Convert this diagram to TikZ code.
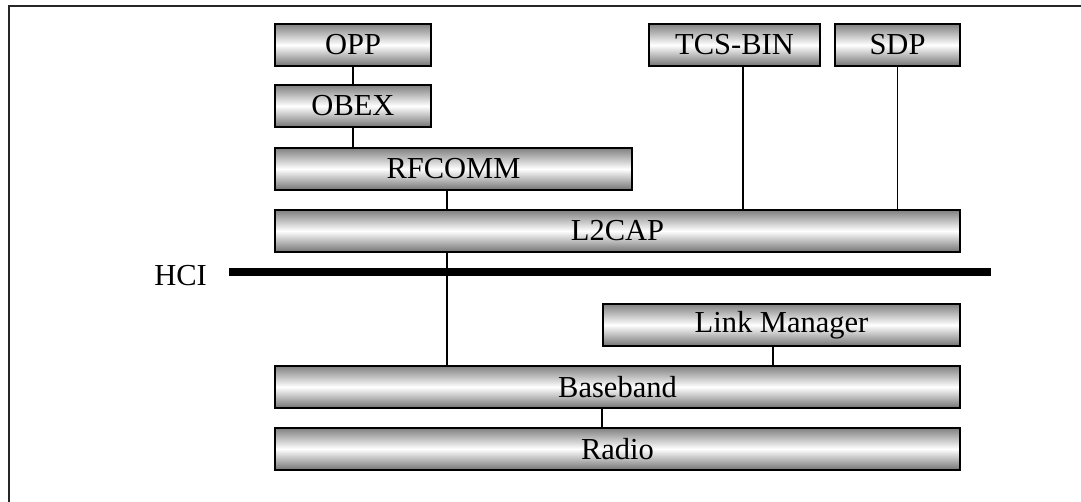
\documentclass[tikz,border=0pt]{standalone}
\usepackage{fontspec}
\setmainfont{Liberation Serif}
\begin{document}
\begin{tikzpicture}[x=1pt,y=-1pt,
  layerbox/.style={draw=black, line width=2pt, top color=black!50, bottom color=black!55, middle color=white,
    minimum height=42pt, inner sep=0pt, font=\fontsize{30.5}{32}\selectfont},
  conn/.style={draw=black, line width=1.3pt},
  hcibar/.style={draw=black, line width=8pt},
  frameline/.style={draw=black!85, line width=2pt}]
\useasboundingbox (0,0) rectangle (1081,501);
\draw[frameline] (9,510) -- (9,6) -- (1090,6);

\node[layerbox, minimum width=156pt] (opp) at (353,45) {OPP};
\node[layerbox, minimum width=156pt] (obex) at (353,106) {OBEX};
\node[layerbox, minimum width=357pt] (rfcomm) at (453.5,169) {RFCOMM};
\node[layerbox, minimum width=171pt] (tcs) at (734.5,45) {TCS-BIN};
\node[layerbox, minimum width=125pt] (sdp) at (897.5,45) {SDP};
\node[layerbox, minimum width=685pt] (l2cap) at (617.5,231) {L2CAP};
\node[layerbox, minimum width=357pt] (lm) at (781.5,325) {Link Manager};
\node[layerbox, minimum width=685pt] (baseband) at (617.5,387) {Baseband};
\node[layerbox, minimum width=685pt] (radio) at (617.5,449) {Radio};

\coordinate (hcistart) at (229,272);
\coordinate (hciend) at (991,272);
\node[anchor=base east, inner sep=0pt, font=\fontsize{30.5}{32}\selectfont] (hci) at (207,285) {HCI};

\coordinate (xa) at (353,0);
\coordinate (xb) at (447,0);
\coordinate (xc) at (743,0);
\coordinate (xd) at (897.5,0);
\coordinate (xe) at (773,0);
\coordinate (xf) at (602,0);

\draw[conn] (opp.south -| xa) -- (obex.north -| xa);
\draw[conn] (obex.south -| xa) -- (rfcomm.north -| xa);
\draw[conn] (rfcomm.south -| xb) -- (l2cap.north -| xb);
\draw[conn] (tcs.south -| xc) -- (l2cap.north -| xc);
\draw[conn] (sdp.south -| xd) -- (l2cap.north -| xd);
\draw[conn] (l2cap.south -| xb) -- (baseband.north -| xb);
\draw[conn] (lm.south -| xe) -- (baseband.north -| xe);
\draw[conn] (baseband.south -| xf) -- (radio.north -| xf);

\draw[hcibar] (hcistart) -- (hciend);
\end{tikzpicture}
\end{document}
